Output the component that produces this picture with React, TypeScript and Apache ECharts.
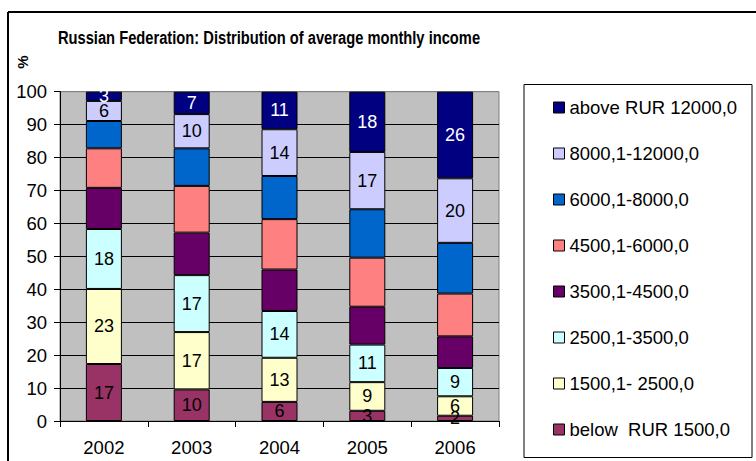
import React, { useEffect, useRef } from "react";
import * as echarts from "echarts";

const years = ["2002", "2003", "2004", "2005", "2006"];
const belowRUR1500 = [17.3, 9.6, 5.8, 3.1, 1.6];
const r1500_2500 = [22.8, 17.4, 13.4, 8.7, 5.9];
const r2500_3500 = [18.2, 17.3, 14.2, 11.4, 8.6];
const r3500_4500 = [12.5, 12.9, 12.6, 11.5, 9.6];
const r4500_6000 = [12.0, 14.2, 15.3, 14.9, 13.0];
const r6000_8000 = [8.3, 11.4, 13.1, 14.7, 15.4];
const r8000_12000 = [6.1, 10.4, 14.2, 17.4, 19.6];
const aboveRUR12000 = [2.8, 6.8, 11.4, 18.3, 26.3];

const seriesNames = [
  "below  RUR 1500,0",
  "1500,1- 2500,0",
  "2500,1-3500,0",
  "3500,1-4500,0",
  "4500,1-6000,0",
  "6000,1-8000,0",
  "8000,1-12000,0",
  "above RUR 12000,0",
];
const seriesData = [
  belowRUR1500,
  r1500_2500,
  r2500_3500,
  r3500_4500,
  r4500_6000,
  r6000_8000,
  r8000_12000,
  aboveRUR12000,
];
const colors = [
  "#993366",
  "#FFFFCC",
  "#CCFFFF",
  "#660066",
  "#FF8080",
  "#0066CC",
  "#CCCCFF",
  "#000080",
];
const showLabel = [true, true, true, false, false, false, true, true];
const yTicks = [0, 10, 20, 30, 40, 50, 60, 70, 80, 90, 100];

const FONT = "'Liberation Sans', Arial, Helvetica, sans-serif";

export default function App() {
  const ref = useRef<HTMLDivElement>(null);
  useEffect(() => {
    if (!ref.current) return;
    const chart = echarts.init(ref.current, null, { renderer: "svg" });
    const splitColors = yTicks.map((t) => (t === 100 ? "#808080" : "#000000"));
    chart.setOption({
      animation: false,
      backgroundColor: "#ffffff",
      textStyle: { fontFamily: FONT },
      grid: {
        left: 60,
        top: 91.7,
        width: 439,
        height: 329.3,
        show: true,
        backgroundColor: "#C0C0C0",
        borderColor: "#808080",
        borderWidth: 1,
      },
      xAxis: {
        type: "category",
        data: years,
        boundaryGap: true,
        axisLine: { show: true, lineStyle: { color: "#000", width: 1 } },
        axisTick: { show: true, alignWithLabel: false, length: 6, lineStyle: { color: "#000" } },
        axisLabel: { color: "#000", fontSize: 18.5, fontFamily: FONT, margin: 17 },
        splitLine: { show: false },
      },
      yAxis: {
        type: "value",
        min: 0,
        max: 100,
        interval: 10,
        axisLine: { show: true, lineStyle: { color: "#000", width: 1 } },
        axisTick: { show: true, length: 6, lineStyle: { color: "#000" } },
        axisLabel: { color: "#000", fontSize: 18.5, fontFamily: FONT, margin: 13 },
        splitLine: { show: true, lineStyle: { color: splitColors, width: 1 } },
      },
      legend: {
        orient: "vertical",
        left: 553,
        top: 97.5,
        padding: 0,
        itemGap: 26,
        itemWidth: 11,
        itemHeight: 11,
        icon: "rect",
        data: [...seriesNames].reverse(),
        itemStyle: { borderColor: "#000", borderWidth: 1 },
        textStyle: { color: "#000", fontSize: 18.5, fontFamily: FONT, lineHeight: 20 },
        selectedMode: false,
      },
      series: seriesNames.map((name, i) => ({
        name,
        type: "bar",
        stack: "total",
        barWidth: 36,
        data: seriesData[i],
        itemStyle: { color: colors[i], borderColor: "#000", borderWidth: 1 },
        label: {
          show: showLabel[i],
          position: "inside",
          color: i === 7 ? "#ffffff" : "#000000",
          fontSize: 18,
          fontFamily: FONT,
          formatter: (p: any) => String(Math.round(p.value)),
        },
      })),
      graphic: [
        {
          type: "line",
          shape: { x1: 8, y1: 12, x2: 8, y2: 470 },
          style: { stroke: "#000", lineWidth: 2 },
        },
        {
          type: "line",
          shape: { x1: 8, y1: 12, x2: 760, y2: 12 },
          style: { stroke: "#000", lineWidth: 2 },
        },
        {
          type: "rect",
          shape: { x: 524, y: 84.5, width: 228, height: 373 },
          style: { fill: "none", stroke: "#000", lineWidth: 1 },
          z: -1,
        },
        {
          type: "text",
          x: 269,
          y: 38,
          scaleX: 0.84,
          style: {
            text: "Russian Federation: Distribution of average monthly income",
            fill: "#000",
            font: "bold 17.5px 'Liberation Sans', Arial, sans-serif",
            align: "center",
            verticalAlign: "middle",
          },
        },
        {
          type: "text",
          x: 22,
          y: 62,
          rotation: Math.PI / 2,
          style: {
            text: "%",
            fill: "#000",
            font: "bold 15px 'Liberation Sans', Arial, sans-serif",
            align: "center",
            verticalAlign: "middle",
          },
        },
      ],
    });
    return () => chart.dispose();
  }, []);
  return (
    <div
      ref={ref}
      style={{ position: "fixed", left: 0, top: 0, width: 756, height: 461 }}
    />
  );
}
